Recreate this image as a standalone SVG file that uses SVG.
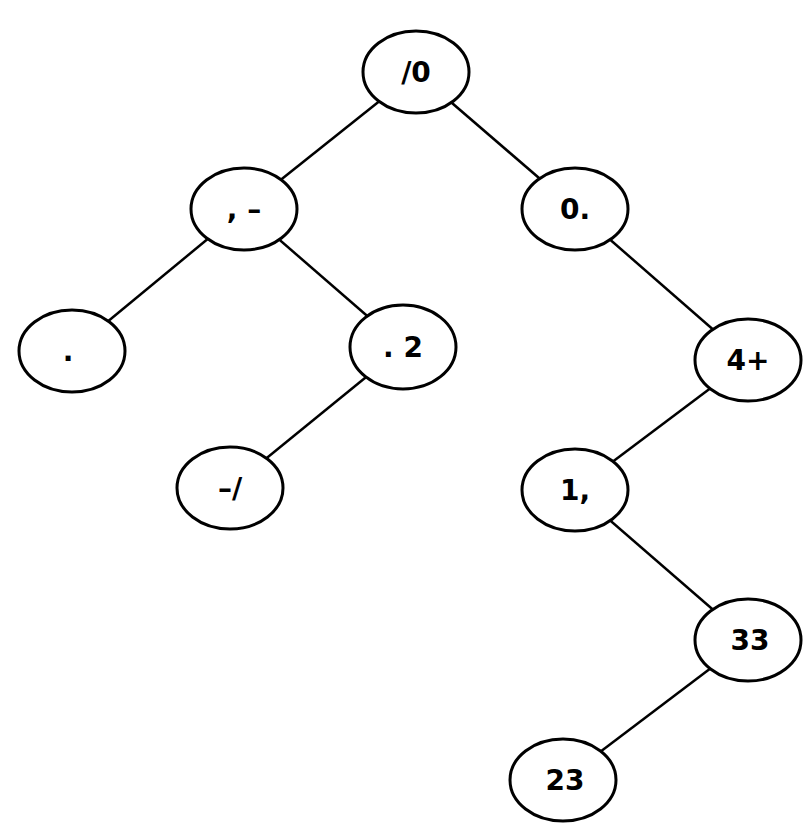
<svg xmlns="http://www.w3.org/2000/svg" width="808" height="828" viewBox="0 0 808 828">
<style>
ellipse{fill:#fff;stroke:#000;stroke-width:3}
line{stroke:#000;stroke-width:2.5}
text{font-family:"DejaVu Sans",sans-serif;font-weight:bold;font-size:28px;text-anchor:middle;dominant-baseline:central}
</style>
<rect width="808" height="828" fill="#fff"/>
<g id="connectors">
<line x1="416" y1="72" x2="244" y2="209"/>
<line x1="416" y1="72" x2="575" y2="209"/>
<line x1="244" y1="209" x2="72" y2="351"/>
<line x1="244" y1="209" x2="403" y2="347"/>
<line x1="403" y1="347" x2="230" y2="488"/>
<line x1="575" y1="209" x2="748" y2="360"/>
<line x1="748" y1="360" x2="575" y2="490"/>
<line x1="575" y1="490" x2="748" y2="640"/>
<line x1="748" y1="640" x2="563" y2="780"/>
</g>
<g id="n0"><ellipse cx="416" cy="72" rx="53" ry="41"/><text x="416" y="72">/0</text></g>
<g id="n1"><ellipse cx="244" cy="209" rx="53" ry="41"/><text x="244" y="209">, –</text></g>
<g id="n2"><ellipse cx="575" cy="209" rx="53" ry="41"/><text x="575" y="209">0.</text></g>
<g id="n3"><ellipse cx="72" cy="351" rx="53" ry="41"/><text x="68" y="351">.</text></g>
<g id="n4"><ellipse cx="403" cy="347" rx="53" ry="42"/><text x="403" y="347">. 2</text></g>
<g id="n5"><ellipse cx="748" cy="360" rx="53" ry="41"/><text x="748" y="360">4+</text></g>
<g id="n6"><ellipse cx="230" cy="488" rx="53" ry="41"/><text x="230" y="488">–/</text></g>
<g id="n7"><ellipse cx="575" cy="490" rx="53" ry="41"/><text x="575" y="490">1,</text></g>
<g id="n8"><ellipse cx="748" cy="640" rx="53" ry="41"/><text x="750" y="640">33</text></g>
<g id="n9"><ellipse cx="563" cy="780" rx="53" ry="41"/><text x="565" y="780">23</text></g>
</svg>
